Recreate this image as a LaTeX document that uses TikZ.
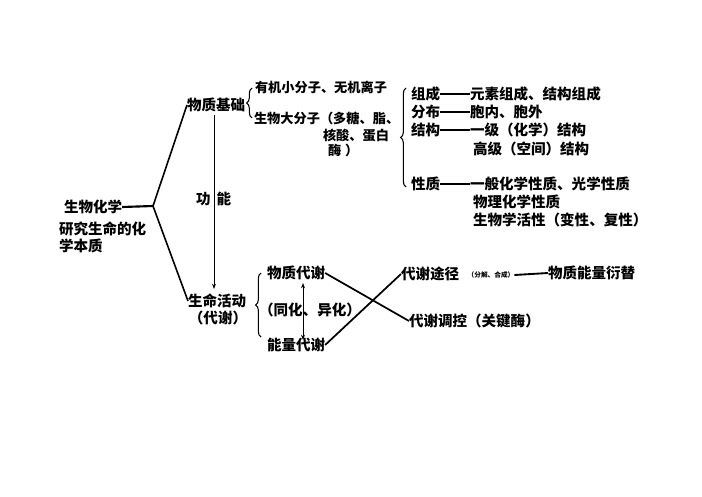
\documentclass[tikz,border=0pt]{standalone}
\usepackage{fontspec}
\setmainfont{Noto Sans CJK SC}
\usetikzlibrary{decorations.pathreplacing,arrows.meta}
\begin{document}
\begin{tikzpicture}[x=0.75pt,y=-0.75pt,
  txt/.style={inner sep=0pt,outer sep=0pt,anchor=west,font=\fontsize{10.9}{13}\selectfont\bfseries},
  txts/.style={inner sep=0pt,outer sep=0pt,anchor=west,font=\fontsize{9.9}{12}\selectfont\bfseries},
  small/.style={inner sep=0pt,outer sep=0pt,font=\fontsize{5}{6}\selectfont\bfseries},
  branch/.style={line width=1.2pt},
  stub/.style={line width=1.6pt},
  dashline/.style={line width=1.4pt},
  crossline/.style={line width=1.3pt},
  thinarrow/.style={line width=0.6pt,-{Stealth[length=4pt,width=3pt]}},
  dblarrow/.style={line width=0.6pt,{Stealth[length=4pt,width=3pt]}-{Stealth[length=4pt,width=3pt]}},
  bracestyle/.style={line width=0.8pt,decorate,decoration={brace,amplitude=4pt}}]
\useasboundingbox (0,0) rectangle (702,496);
% left
\node[txt] (sw) at (64,207) {生物化学};
\node[txt] (yj1) at (59,229) {研究生命的化};
\node[txt] (yj2) at (59,246) {学本质};
\coordinate (br) at (153,206);
\node[txt] (wz) at (187,105) {物质基础};
\node[txt] (sm) at (188,301) {生命活动};
\node[txt,anchor=center] (dx) at (218,318) {（代谢）};
\draw[stub] (sw.east) -- (br);
\draw[branch] (br) -- (wz.west);
\draw[branch] (br) -- (sm.west);
% function arrow
\coordinate (fa) at (214,115);
\coordinate (fb) at (214,289);
\draw[thinarrow] (fa) -- (fb);
\node[txt] (gn) at (196,199) {功\hspace{4.5pt}能};
% material basis
\draw[bracestyle] (252,118) -- (252,88);
\node[txts] (yjx) at (255,87) {有机小分子、无机离子};
\node[txts] (swd) at (254,118) {生物大分子（多糖、脂、};
\node[txts] (hs) at (323,135) {核酸、蛋白};
\node[txts] (me) at (328,150) {酶\hspace{3pt}）};
% right block
\draw[bracestyle] (406,187) -- (406,88);
\node[txt] (zc) at (411,94) {组成};
\node[txt] (zc2) at (470,94) {元素组成、结构组成};
\node[txt] (fbu) at (411,112) {分布};
\node[txt] (fb2) at (470,112) {胞内、胞外};
\node[txt] (jg) at (411,130) {结构};
\node[txt] (jg2) at (470,130) {一级（化学）结构};
\node[txt] (jg3) at (473,149) {高级（空间）结构};
\node[txt] (xz) at (411,184) {性质};
\node[txt] (xz2) at (470,184) {一般化学性质、光学性质};
\node[txt] (xz3) at (473,202) {物理化学性质};
\node[txt] (xz4) at (473,220) {生物学活性（变性、复性）};
\draw[dashline] (zc.east) -- (zc2.west);
\draw[dashline] (fbu.east) -- (fb2.west);
\draw[dashline] (jg.east) -- (jg2.west);
\draw[dashline] (xz.east) -- (xz2.west);
% metabolism
\draw[bracestyle] (261,337) -- (261,273);
\node[txt] (wzdx) at (267,273) {物质代谢};
\node[txt,anchor=center] (thyh) at (310,310) {（同化、异化）};
\node[txt] (nldx) at (267,345) {能量代谢};
\coordinate (da) at (303,283);
\coordinate (db) at (303,340);
\draw[dblarrow] (da) -- (db);
\node[txt] (dxtj) at (401,274) {代谢途径};
\node[small] (fj) at (491,275) {（分解、合成）};
\node[txt] (wnyt) at (548,273) {物质能量衍替};
\node[txt] (dxtk) at (409,321) {代谢调控（关键酶）};
\draw[dashline] (fj.east) -- (wnyt.west);
\draw[crossline] (wzdx.east) -- (dxtk.west);
\draw[crossline] (nldx.east) -- (dxtj.west);
\end{tikzpicture}
\end{document}
